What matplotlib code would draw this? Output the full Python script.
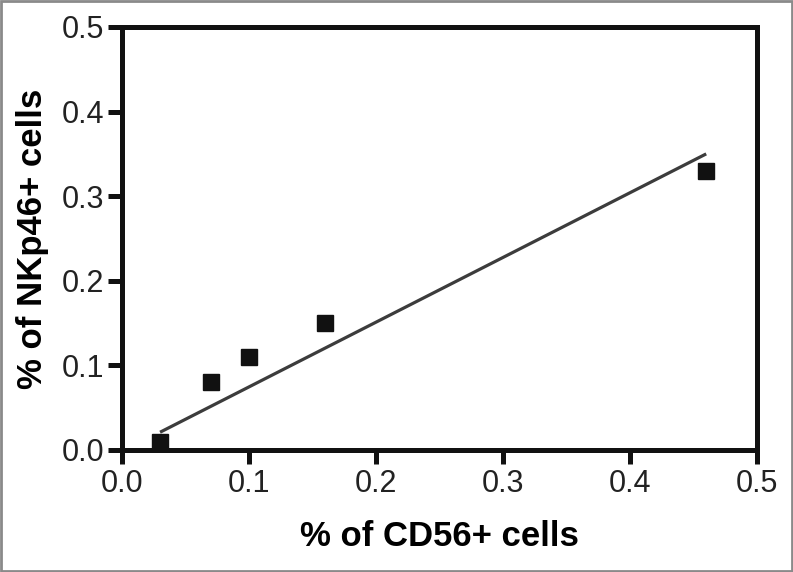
import matplotlib
matplotlib.use("Agg")
import matplotlib.pyplot as plt
from matplotlib.patches import Rectangle

# data
cd56 = [0.03, 0.07, 0.10, 0.16, 0.46]
nkp46 = [0.01, 0.08, 0.11, 0.15, 0.33]
fit_x = [0.03, 0.46]
fit_y = [0.021, 0.35]
ticks = [0.0, 0.1, 0.2, 0.3, 0.4, 0.5]

plt.rcParams["font.family"] = ["Liberation Sans", "DejaVu Sans"]

fig = plt.figure(figsize=(7.93, 5.72), dpi=100)
ax = fig.add_axes([0.1538, 0.2133, 0.8008, 0.7395])

ax.plot(fit_x, fit_y, color="#3c3c3c", linewidth=2.3, solid_capstyle="butt", zorder=2)
ax.plot(cd56, nkp46, linestyle="none", marker="s", markersize=11,
        color="#111111", zorder=3)

ax.set_xlim(0, 0.5)
ax.set_ylim(0, 0.5)
ax.set_xticks(ticks)
ax.set_yticks(ticks)
ax.set_xticklabels([f"{t:.1f}" for t in ticks])
ax.set_yticklabels([f"{t:.1f}" for t in ticks])
for s in ax.spines.values():
    s.set_linewidth(3.6)
    s.set_color("#111111")
ax.tick_params(direction="out", length=10, width=3.6, color="#111111",
               labelsize=22, labelcolor="#222222", pad=2.5)
ax.tick_params(axis="x", pad=4)
ax.set_xlabel("% of CD56+ cells", fontsize=25, fontweight="bold", labelpad=15)
ax.set_ylabel("% of NKp46+ cells", fontsize=25, fontweight="bold", labelpad=9)

fig.patches.append(Rectangle((0.001, 0.001), 0.998, 0.998, transform=fig.transFigure,
                             fill=False, edgecolor="#8a8a8a", linewidth=2))

fig.savefig("out.png", dpi=100)
